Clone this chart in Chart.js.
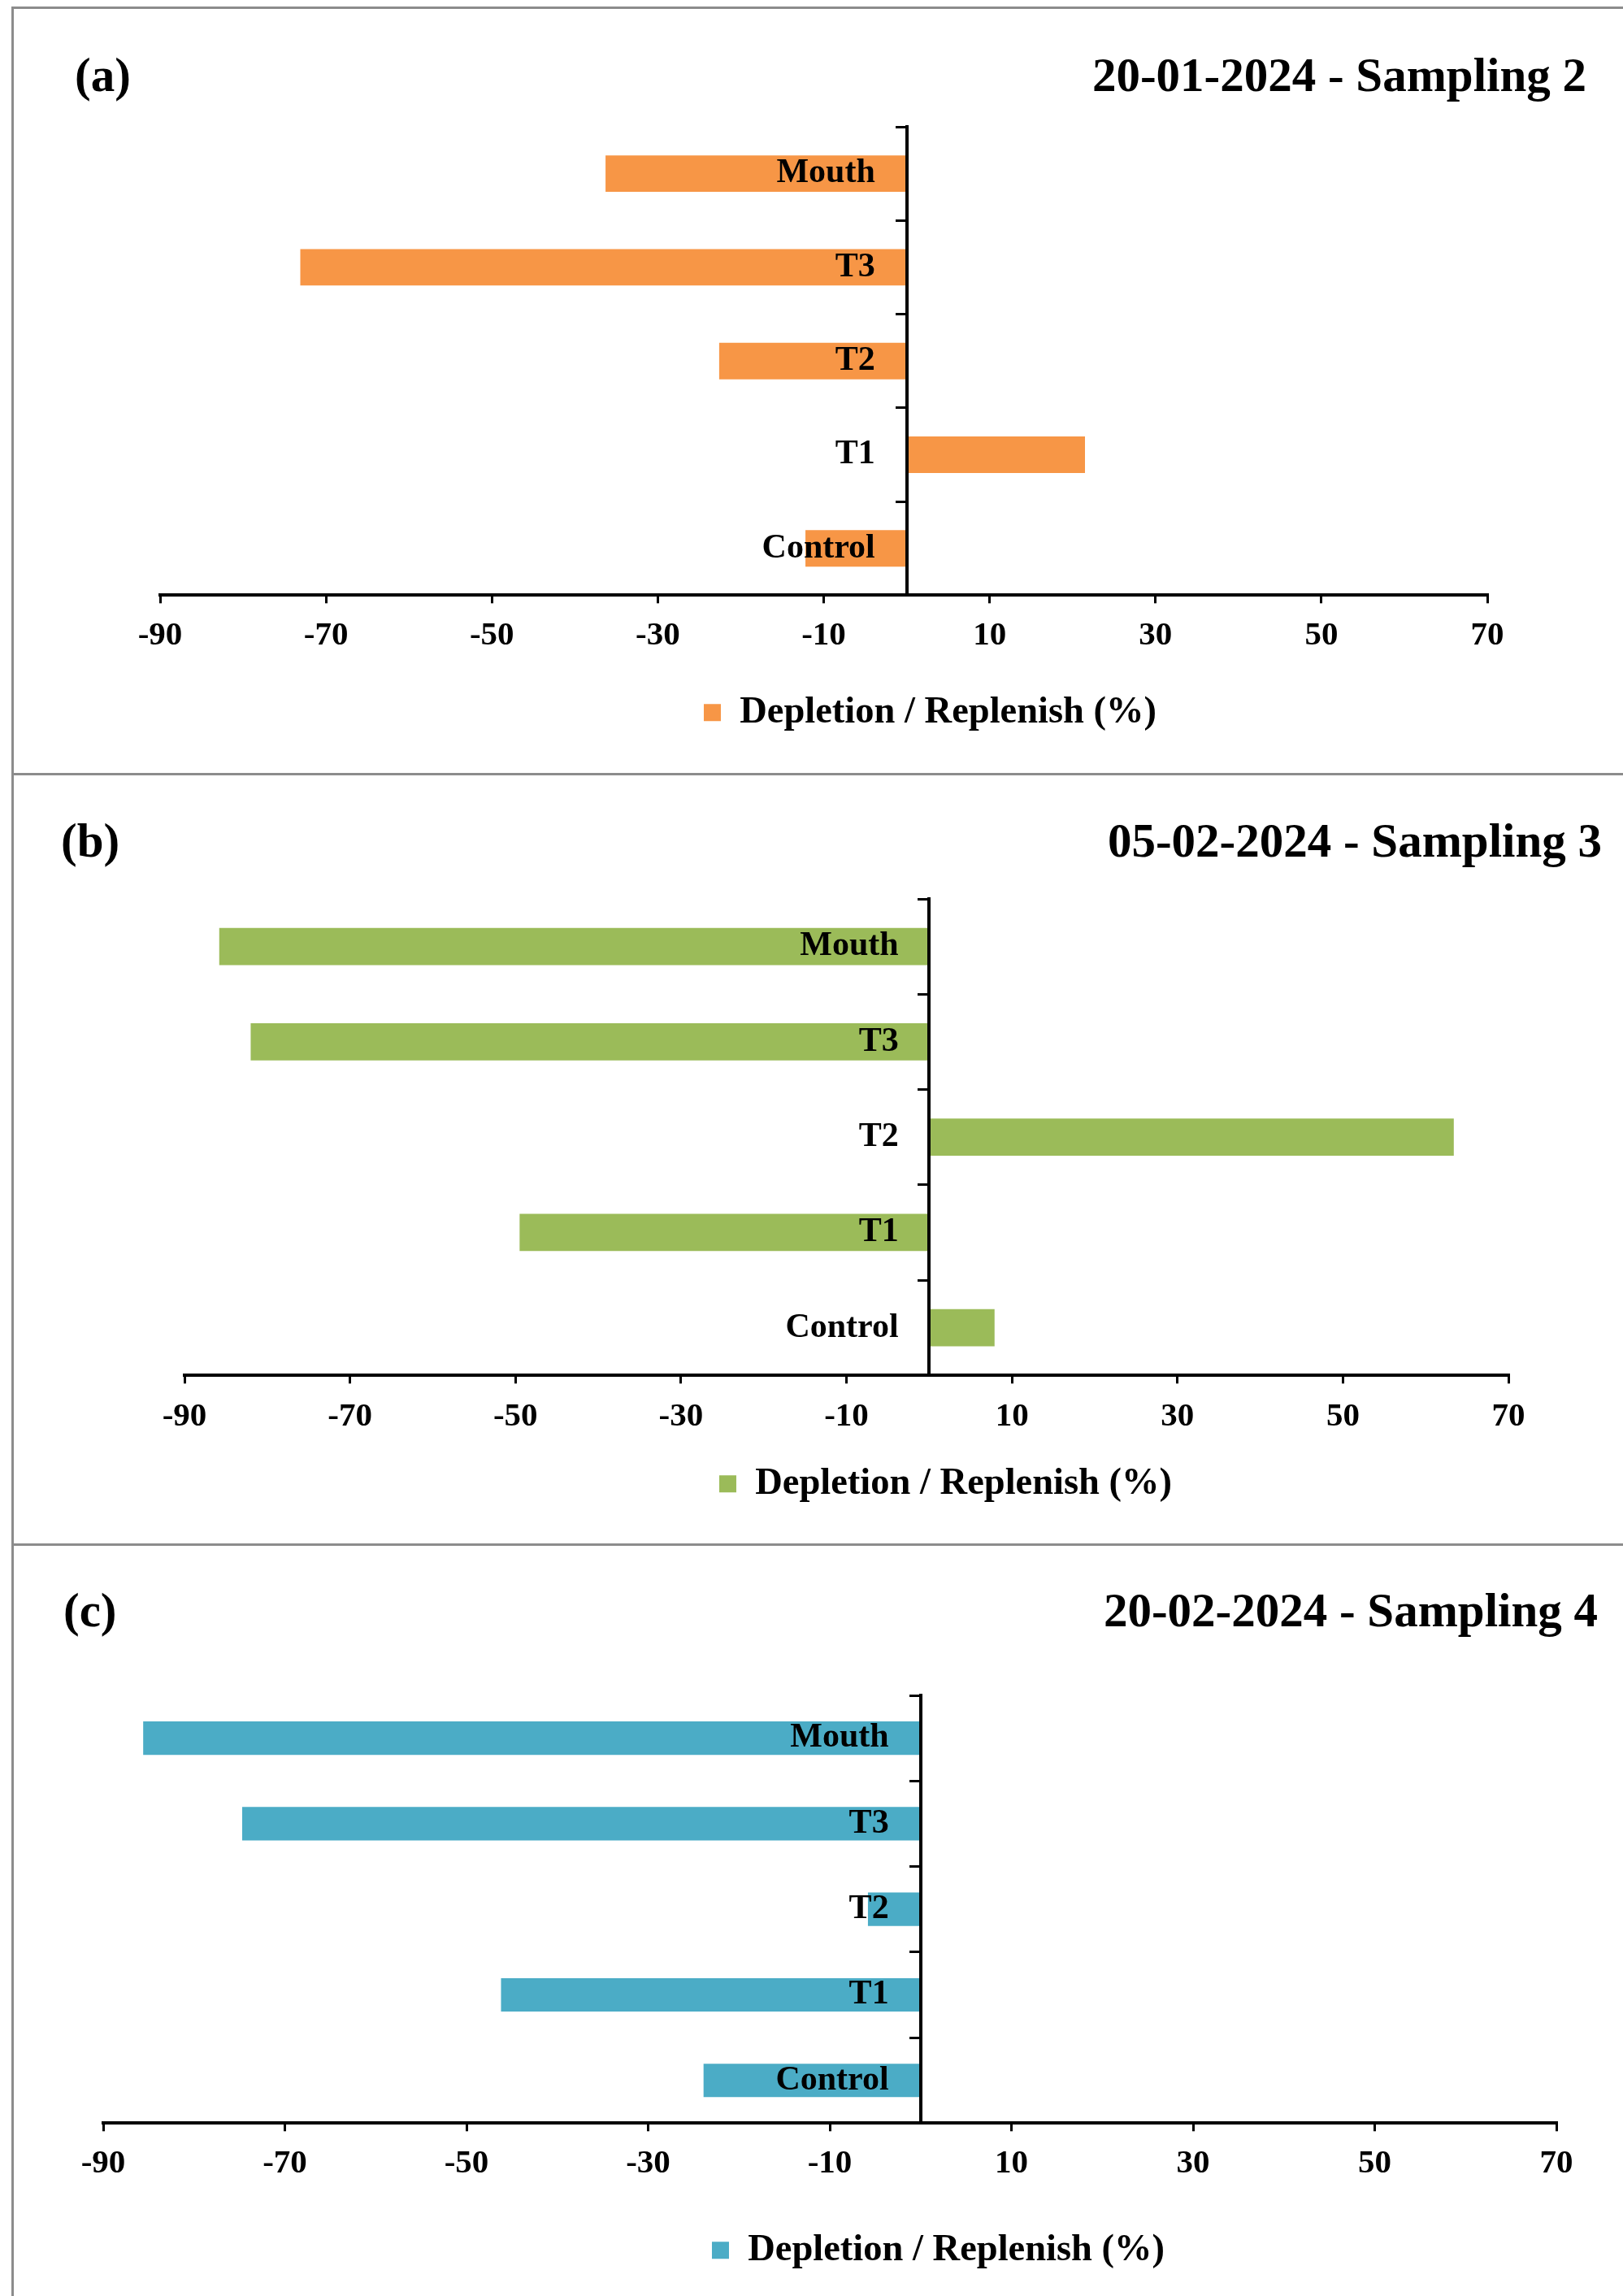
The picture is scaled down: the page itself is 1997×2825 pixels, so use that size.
<!DOCTYPE html>
<html>
<head>
<meta charset="utf-8">
<script src="https://cdn.jsdelivr.net/npm/chart.js@4.4.1/dist/chart.umd.min.js"></script>
<style>
html,body{margin:0;padding:0;background:#fff;}
#page{position:relative;width:1997px;height:2825px;overflow:hidden;background:#fff;}
.frame{position:absolute;left:14px;width:2000px;border-top:3px solid #8c8c8c;border-left:3px solid #8c8c8c;box-sizing:border-box;}
.box{position:absolute;left:0;}
.lbl{position:absolute;font-family:'Liberation Serif','Times New Roman',serif;font-weight:bold;font-size:59px;line-height:59px;color:#000;white-space:nowrap;}
</style>
</head>
<body>
<div id="page">
  <div class="frame" style="top:8px;height:945px;"></div>
  <div class="frame" style="top:951px;height:950px;"></div>
  <div class="frame" style="top:1899px;height:940px;"></div>

  <div class="box" style="top:0px;width:2092px;height:952px;"><canvas id="ca"></canvas></div>
  <div class="box" style="top:952px;width:2100px;height:948px;"><canvas id="cb"></canvas></div>
  <div class="box" style="top:1900px;width:2182px;height:925px;"><canvas id="cc"></canvas></div>

  <div class="lbl" id="la" style="left:92px;top:63px;"></div>
  <div class="lbl" id="ta" style="right:45px;top:63px;"></div>
  <div class="lbl" id="lb" style="left:75px;top:1005px;"></div>
  <div class="lbl" id="tb" style="right:26px;top:1005px;"></div>
  <div class="lbl" id="lc" style="left:78px;top:1952px;"></div>
  <div class="lbl" id="tc" style="right:31px;top:1952px;"></div>
</div>
<script>
// ---- data ----
const categories = ["Mouth", "T3", "T2", "T1", "Control"];
const sampling2 = [-36.3, -73.1, -22.6, 21.5, -12.2];
const sampling3 = [-85.8, -82.0, 63.4, -49.5, 7.9];
const sampling4 = [-85.6, -74.7, -5.8, -46.2, -23.9];
const xTicks = [-90, -70, -50, -30, -10, 10, 30, 50, 70];
const seriesLabel = "Depletion / Replenish (%)";
const panelLetters = ["(a)", "(b)", "(c)"];
const panelTitles = ["20-01-2024 - Sampling 2", "05-02-2024 - Sampling 3", "20-02-2024 - Sampling 4"];

// ---- styles ----
const colors = ["#F79646", "#9BBB59", "#4BACC6"];
const SERIF = "'Liberation Serif', 'Times New Roman', serif";

document.getElementById('la').textContent = panelLetters[0];
document.getElementById('lb').textContent = panelLetters[1];
document.getElementById('lc').textContent = panelLetters[2];
document.getElementById('ta').textContent = panelTitles[0];
document.getElementById('tb').textContent = panelTitles[1];
document.getElementById('tc').textContent = panelTitles[2];

function makeChart(id, values, color, lay) {
  return new Chart(document.getElementById(id), {
    type: 'bar',
    data: {
      labels: categories,
      datasets: [{
        label: seriesLabel,
        data: values,
        backgroundColor: color,
        borderWidth: 0,
        categoryPercentage: 1,
        barPercentage: 0.39,
        xAxisID: 'x',
        yAxisID: 'y'
      }]
    },
    options: {
      indexAxis: 'y',
      responsive: true,
      maintainAspectRatio: false,
      animation: false,
      devicePixelRatio: 1,
      layout: { padding: { left: lay.padL, right: 0, top: lay.padT, bottom: lay.padB } },
      plugins: {
        legend: {
          position: 'bottom',
          labels: {
            boxWidth: 21, boxHeight: 21, padding: lay.legPad, color: '#000',
            font: { family: SERIF, weight: 'bold', size: 46.5 }
          }
        },
        tooltip: { enabled: false },
        title: { display: false }
      },
      scales: {
        x: {
          type: 'linear', min: -90, max: 70, position: 'bottom',
          afterBuildTicks: s => { s.ticks = xTicks.map(v => ({ value: v })); },
          grid: { drawOnChartArea: false, drawTicks: true, tickLength: 10, lineWidth: 3, color: '#000' },
          border: { display: true, color: '#000', width: 4 },
          ticks: {
            color: '#000', padding: lay.xPad, maxRotation: 0, autoSkip: false,
            font: { family: SERIF, weight: 'bold', size: 41, lineHeight: 1.2 }
          }
        },
        y: {
          type: 'category', position: { x: 0 }, offset: true,
          grid: { offset: true, drawOnChartArea: false, drawTicks: true, tickLength: 12, lineWidth: 3, color: '#000' },
          border: { display: true, color: '#000', width: 4, z: 1 },
          ticks: { display: false }
        },
        yl: {
          type: 'category', position: { x: lay.labelX }, offset: true,
          grid: { display: false }, border: { display: false },
          ticks: {
            z: 1, color: '#000', padding: 0, autoSkip: false,
            font: { family: SERIF, weight: 'bold', size: 42 }
          }
        },
        pad: {
          type: 'linear', position: 'right', display: true,
          grid: { display: false }, border: { display: false }, ticks: { display: false },
          afterFit: s => { s.width = lay.extraR; }
        }
      }
    }
  });
}

makeChart('ca', sampling2, colors[0], { padL: 197, padT: 156, padB: 42, legPad: 30, xPad: 16, extraR: 262, labelX: -3.8 });
makeChart('cb', sampling3, colors[1], { padL: 227, padT: 154, padB: 41, legPad: 17, xPad: 17, extraR: 244, labelX: -3.7 });
makeChart('cc', sampling4, colors[2], { padL: 127, padT: 186, padB: 23, legPad: 42, xPad: 16, extraR: 267, labelX: -3.5 });
</script>
</body>
</html>
